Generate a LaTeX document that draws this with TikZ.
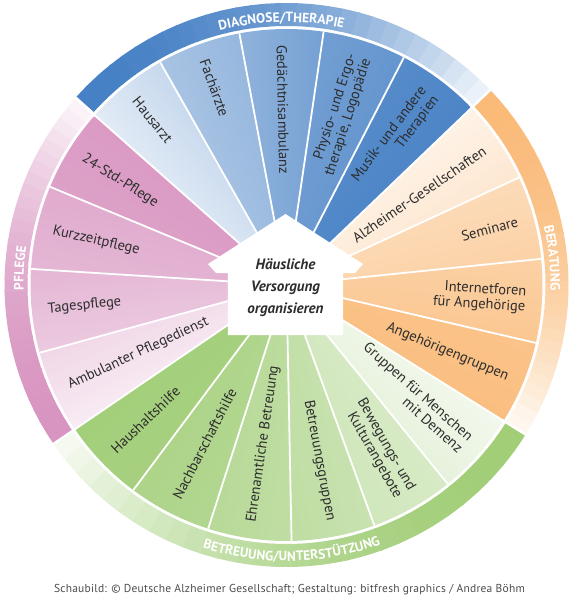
\documentclass[tikz,border=0pt]{standalone}
\usepackage{fontspec}
\setmainfont{PT Sans}
\usetikzlibrary{decorations.text}

\definecolor{diagblue}{RGB}{68,127,196}
\definecolor{beraorange}{RGB}{250,186,120}
\definecolor{betrgreen}{RGB}{160,205,118}
\definecolor{pflpink}{RGB}{216,148,192}
\definecolor{labelgrey}{RGB}{45,45,45}
\newcommand\bandfont{\bfseries\fontsize{13.5}{13.5}\selectfont}

\begin{document}
\begin{tikzpicture}[
    x=1pt, y=1pt,
    wedgelabel/.style={text=labelgrey, inner sep=0pt, align=right,
                       font=\fontsize{14.5}{15.5}\selectfont},
    sep/.style={white, line width=1.8pt},
    bandtext/.style={decorate, decoration={text along path, text align=center,
                     text color=white}}
]
\useasboundingbox (-286.5,-315) rectangle (292.5,285);

% Wedges, lighter to darker clockwise in every sector
\foreach \col/\first/\n in {diagblue/0/5, beraorange/5/4, betrgreen/9/6, pflpink/15/4} {
  \foreach \j in {1,...,\n} {
    \pgfmathsetmacro\a{138.5-(\first+\j-1)*360/19}
    \pgfmathsetmacro\b{\a-360/19}
    \pgfmathsetmacro\m{\a-180/19}
    \pgfmathtruncatemacro\plight{4+96*((\j-1)/\n)^0.6}
    \pgfmathtruncatemacro\pdark{4+96*(\j/\n)^0.6}
    \shade[top color=\col!\plight!white, bottom color=\col!\pdark!white, shading angle=\m]
      (0,0) -- (\a:256pt) arc[start angle=\a, end angle=\b, radius=256pt] -- cycle;
  }
}

% Outer ring, fading out clockwise
\foreach \col/\s/\e in {diagblue/138.5/43.76, beraorange/43.76/-32.03,
                        betrgreen/-32.03/-145.71, pflpink/-145.71/-221.5} {
  \foreach \k in {0,...,29} {
    \pgfmathsetmacro\ba{\s-(\s-\e)*\k/30}
    \pgfmathsetmacro\bb{\s-(\s-\e)*(\k+1)/30-0.4}
    \pgfmathtruncatemacro\pc{100-92*((\k+0.5)/30)^2}
    \fill[\col!\pc!white] (\ba:259pt) arc[start angle=\ba, end angle=\bb, radius=259pt]
      -- (\bb:282pt) arc[start angle=\bb, end angle=\ba, radius=282pt] -- cycle;
  }
}

% Separators
\foreach \k in {0,...,18}
  \draw[sep] (0,0) -- ({138.5-\k*360/19}:256pt);
\foreach \t in {138.5, 43.76, -32.03, -145.71}
  \draw[sep, line width=2.4pt] (\t:255pt) -- (\t:285pt);

% Ring labels
\path[bandtext, decoration={text={|\bandfont|DIAGNOSE/THERAPIE}}]
  (138.5:263pt) arc[start angle=138.5, end angle=43.76, radius=263pt];
\path[bandtext, decoration={text={|\bandfont|BERATUNG}}]
  (43.76:264pt) arc[start angle=43.76, end angle=-32.03, radius=264pt];
\path[bandtext, decoration={text={|\bandfont|BETREUUNG/UNTERSTÜTZUNG}}]
  (-145.71:276pt) arc[start angle=-145.71, end angle=-32.03, radius=276pt];
\path[bandtext, decoration={text={|\bandfont|PFLEGE}}]
  (214.29:263pt) arc[start angle=214.29, end angle=138.5, radius=263pt];

% Wedge labels
\foreach \k/\lab in {0/Hausarzt, 1/Fachärzte, 2/Gedächtnisambulanz,
    3/{Physio- und Ergo-\\therapie, Logopädie}, 4/{Musik- und andere\\Therapien},
    5/Alzheimer-Gesellschaften, 6/Seminare, 7/{Internetforen\\für Angehörige},
    8/Angehörigengruppen, 9/{Gruppen für Menschen\\mit Demenz},
    10/{Bewegungs- und\\Kulturangebote}, 11/Betreuungsgruppen,
    12/Ehrenamtliche Betreuung, 13/Nachbarschaftshilfe, 14/Haushaltshilfe,
    15/Ambulanter Pflegedienst, 16/Tagespflege, 17/Kurzzeitpflege, 18/24-Std.-Pflege} {
  \pgfmathsetmacro\m{138.5-(\k+0.5)*360/19}
  \pgfmathtruncatemacro\inward{cos(\m)<0}
  \ifnum\inward=1
    \node[wedgelabel, rotate=\m+180, anchor=west] (lab\k) at (\m:240pt) {\lab};
  \else
    \node[wedgelabel, rotate=\m, anchor=east] (lab\k) at (\m:240pt) {\lab};
  \fi
}

% House in the middle
\fill[white] (-1,71) -- (76.5,21) -- (68.5,12) -- (56.5,12) -- (56.5,-50)
  -- (-58.5,-50) -- (-58.5,12) -- (-70.5,12) -- (-78.5,21) -- cycle;
\node[font=\bfseries\itshape\fontsize{15}{22}\selectfont, align=center, text=labelgrey]
  (hometext) at (-1,-2.5) {Häusliche\\Versorgung\\organisieren};

% Credit line
\node[font=\fontsize{11.5}{13}\selectfont\addfontfeature{LetterSpace=2}, text=black!70]
  (credit) at (3,-305)
  {Schaubild: © Deutsche Alzheimer Gesellschaft; Gestaltung: bitfresh graphics / Andrea Böhm};
\end{tikzpicture}
\end{document}
